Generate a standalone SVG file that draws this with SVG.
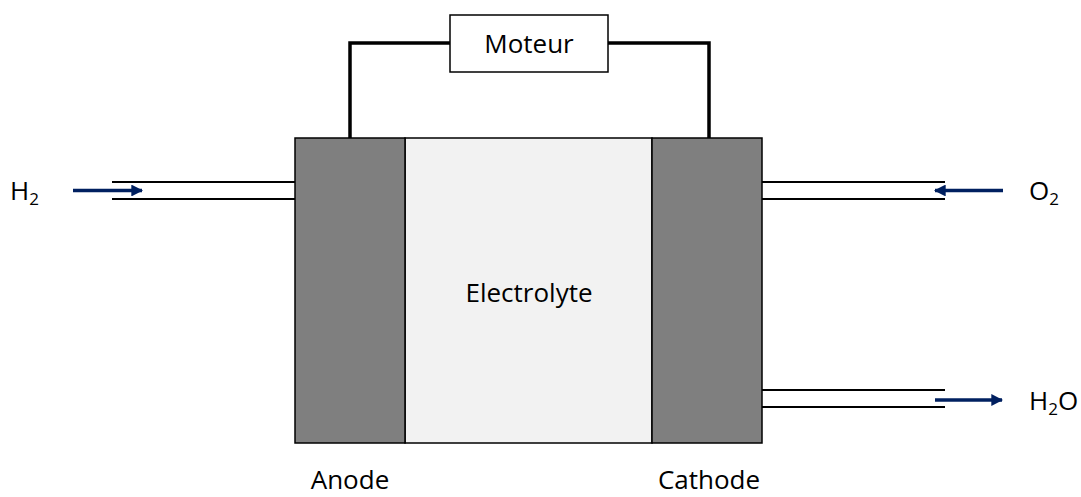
<svg xmlns="http://www.w3.org/2000/svg" width="1081" height="497" viewBox="0 0 1081 497">
<style>
.t{font-family:"Open Sans","Liberation Sans",sans-serif;font-size:26px;fill:#000}
.s{font-size:17px}
.el{fill:#7f7f7f;stroke:#000;stroke-width:1.5}
.wire{fill:none;stroke:#000;stroke-width:3.5}
.pipe{fill:none;stroke:#000;stroke-width:2}
.flow{fill:none;stroke:#002060;stroke-width:3.5}
</style>
<defs>
<marker id="ah" viewBox="0 0 10 10" refX="9" refY="5" markerWidth="3.4" markerHeight="3.4" orient="auto" markerUnits="strokeWidth">
<path d="M0,0 L10,5 L0,10 z" fill="#002060"/>
</marker>
</defs>
<rect width="1081" height="497" fill="#fff"/>
<g id="connectors">
<polyline class="wire" points="350,138 350,43 450,43"/>
<polyline class="wire" points="608,43 709,43 709,138"/>
<line class="pipe" x1="112" y1="182" x2="295" y2="182"/>
<line class="pipe" x1="112" y1="199" x2="295" y2="199"/>
<line class="pipe" x1="762" y1="182" x2="945" y2="182"/>
<line class="pipe" x1="762" y1="199" x2="945" y2="199"/>
<line class="pipe" x1="762" y1="390" x2="945" y2="390"/>
<line class="pipe" x1="762" y1="407" x2="945" y2="407"/>
<line class="flow" x1="73" y1="190.5" x2="142" y2="190.5" marker-end="url(#ah)"/>
<line class="flow" x1="1003" y1="190.5" x2="935" y2="190.5" marker-end="url(#ah)"/>
<line class="flow" x1="935" y1="400" x2="1002" y2="400" marker-end="url(#ah)"/>
</g>
<g id="electrolyte">
<rect x="405" y="138" width="247" height="305" fill="#f2f2f2" stroke="#000" stroke-width="1.5"/>
<text class="t" x="529" y="302" text-anchor="middle">Electrolyte</text>
</g>
<g id="anode">
<rect class="el" x="295" y="138" width="110" height="305"/>
<text class="t" x="350" y="489" text-anchor="middle">Anode</text>
</g>
<g id="cathode">
<rect class="el" x="652" y="138" width="110" height="305"/>
<text class="t" x="709" y="489" text-anchor="middle">Cathode</text>
</g>
<g id="moteur">
<rect x="450" y="15" width="158" height="57" fill="#fff" stroke="#000" stroke-width="1.5"/>
<text class="t" x="529" y="53" text-anchor="middle">Moteur</text>
</g>
<g id="h2">
<text class="t" x="10" y="200">H<tspan class="s" dy="5">2</tspan></text>
</g>
<g id="o2">
<text class="t" x="1029" y="200">O<tspan class="s" dy="5">2</tspan></text>
</g>
<g id="h2o">
<text class="t" x="1029" y="410">H<tspan class="s" dy="5">2</tspan><tspan dy="-5">O</tspan></text>
</g>
</svg>
